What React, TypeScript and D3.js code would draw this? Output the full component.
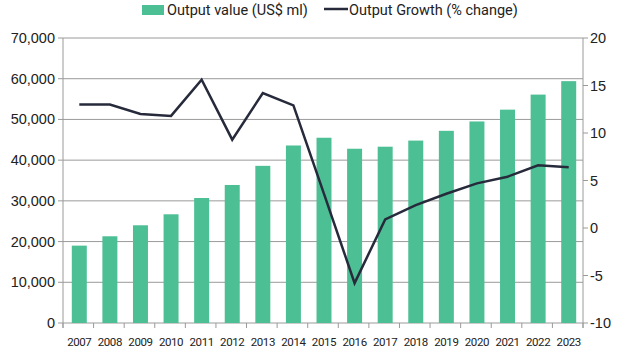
import { useEffect, useRef } from "react";
import * as d3 from "d3";

const years = ["2007", "2008", "2009", "2010", "2011", "2012", "2013", "2014", "2015", "2016", "2017", "2018", "2019", "2020", "2021", "2022", "2023"];
const outputValue = [19000, 21300, 24000, 26700, 30700, 33900, 38600, 43600, 45500, 42800, 43300, 44800, 47200, 49500, 52400, 56100, 59400];
const outputGrowth = [13.0, 13.0, 12.0, 11.8, 15.6, 9.3, 14.2, 12.9, 3.6, -5.8, 0.9, 2.4, 3.6, 4.7, 5.4, 6.6, 6.4];
const leftTicks = [0, 10000, 20000, 30000, 40000, 50000, 60000, 70000];
const rightTicks = [-10, -5, 0, 5, 10, 15, 20];

const BAR = "#4dbf95";
const LINE = "#262a3b";
const GRID = "#9a9a9a";
const SANS = "Roboto, sans-serif";

export default function App() {
  const svgRef = useRef<SVGSVGElement>(null);

  useEffect(() => {
    if (!svgRef.current) return;
    const svg = d3.select(svgRef.current);
    svg.selectAll("*").remove();

    const left = 63, right = 583, top = 38, bottom = 323;

    const x = d3.scaleBand().domain(years).range([left, right]).paddingInner(0.51).paddingOuter(0.255);
    const yL = d3.scaleLinear().domain([0, 70000]).range([bottom, top]);
    const yR = d3.scaleLinear().domain([-10, 20]).range([bottom, top]);

    // gridlines
    svg.append("g")
      .selectAll("line")
      .data(leftTicks)
      .join("line")
      .attr("x1", left - 5)
      .attr("x2", right)
      .attr("y1", (d) => yL(d))
      .attr("y2", (d) => yL(d))
      .attr("stroke", GRID)
      .attr("stroke-width", 1);

    // bars
    svg.append("g")
      .selectAll("rect")
      .data(years)
      .join("rect")
      .attr("x", (d) => x(d)! + 1)
      .attr("width", x.bandwidth())
      .attr("y", (_, i) => yL(outputValue[i]))
      .attr("height", (_, i) => bottom - yL(outputValue[i]))
      .attr("fill", BAR);

    // axis lines
    svg.append("line").attr("x1", left).attr("x2", left).attr("y1", top).attr("y2", bottom + 5).attr("stroke", GRID);
    svg.append("line").attr("x1", right).attr("x2", right).attr("y1", top).attr("y2", bottom + 5).attr("stroke", GRID);

    // x tick marks between categories
    const step = (right - left) / years.length;
    const bounds = d3.range(years.length + 1).map((i) => left + i * step);
    svg.append("g")
      .selectAll("line")
      .data(bounds)
      .join("line")
      .attr("x1", (d) => d)
      .attr("x2", (d) => d)
      .attr("y1", bottom)
      .attr("y2", bottom + 5)
      .attr("stroke", GRID);

    // right ticks
    svg.append("g")
      .selectAll("line")
      .data(rightTicks)
      .join("line")
      .attr("x1", right)
      .attr("x2", right + 5)
      .attr("y1", (d) => yR(d))
      .attr("y2", (d) => yR(d))
      .attr("stroke", GRID);

    // growth line
    const line = d3.line<number>()
      .x((_, i) => x(years[i])! + 1 + x.bandwidth() / 2)
      .y((d) => yR(d));
    svg.append("path")
      .datum(outputGrowth)
      .attr("d", line)
      .attr("fill", "none")
      .attr("stroke", LINE)
      .attr("stroke-width", 2.5);

    // left labels
    svg.append("g")
      .selectAll("text")
      .data(leftTicks)
      .join("text")
      .attr("x", left - 8)
      .attr("y", (d) => yL(d) + 5)
      .attr("text-anchor", "end")
      .attr("font-family", "'Liberation Sans', Arial, sans-serif")
      .attr("font-size", 14.5)
      .attr("fill", "#222")
      .text((d) => d3.format(",")(d));

    // right labels
    svg.append("g")
      .selectAll("text")
      .data(rightTicks)
      .join("text")
      .attr("x", right + 7)
      .attr("y", (d) => yR(d) + 5)
      .attr("text-anchor", "start")
      .attr("font-family", "'Liberation Sans', Arial, sans-serif")
      .attr("font-size", 14.5)
      .attr("fill", "#222")
      .text((d) => d);

    // x labels
    svg.append("g")
      .selectAll("text")
      .data(years)
      .join("text")
      .attr("x", (d) => x(d)! + 1 + x.bandwidth() / 2)
      .attr("y", 346)
      .attr("text-anchor", "middle")
      .attr("font-family", SANS)
      .attr("font-size", 11.5)
      .attr("letter-spacing", -0.4)
      .attr("fill", "#222")
      .text((d) => d);

    // legend
    const lg = svg.append("g");
    lg.append("rect").attr("x", 142).attr("y", 5).attr("width", 22).attr("height", 10).attr("fill", BAR);
    lg.append("text").attr("x", 167).attr("y", 15).attr("font-family", SANS).attr("font-size", 14.5).attr("fill", "#222").text("Output value (US$ ml)");
    lg.append("line").attr("x1", 324).attr("x2", 348).attr("y1", 9).attr("y2", 9).attr("stroke", LINE).attr("stroke-width", 2.5);
    lg.append("text").attr("x", 349).attr("y", 15).attr("font-family", SANS).attr("font-size", 14.5).attr("fill", "#222").text("Output Growth (% change)");
  }, []);

  return <svg ref={svgRef} width={620} height={350} style={{ position: "absolute", left: 0, top: 0 }} />;
}
